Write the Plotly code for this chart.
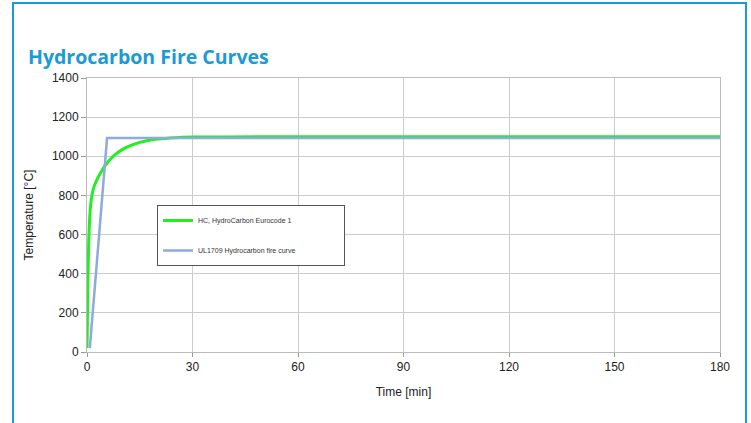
import plotly.graph_objects as go

# Data
hc_time = [0, 0.25, 0.5, 0.75, 1, 1.5, 2, 3, 4, 5, 6, 7, 8, 10, 12, 15, 18, 20, 25, 30, 40, 60, 90, 120, 150, 180]
hc_temp = [20, 360, 570, 680, 745, 810, 845, 887, 920, 948, 972, 991, 1008, 1034, 1052, 1071, 1083, 1088, 1095, 1098, 1099, 1100, 1100, 1100, 1100, 1100]
ul_time = [0.8, 5.7, 180]
ul_temp = [20, 1093, 1093]

x_ticks = [0, 30, 60, 90, 120, 150, 180]
y_ticks = [0, 200, 400, 600, 800, 1000, 1200, 1400]

title_text = "Hydrocarbon Fire Curves"
hc_name = "HC, HydroCarbon Eurocode 1"
ul_name = "UL1709 Hydrocarbon fire curve"

W, H = 751, 423
L, R, T, B = 87, 31, 78, 71
pw, ph = W - L - R, H - T - B

def px(xp):
    return (xp - L) / pw

def py(yp):
    return (H - B - yp) / ph

pad = "\u00a0" * 22

fig = go.Figure()
fig.add_trace(go.Scatter(x=hc_time, y=hc_temp, mode="lines", name=hc_name + pad,
                         legendgroup="hc",
                         line=dict(color="#22ee22", width=3, shape="spline", smoothing=0.6)))
fig.add_trace(go.Scatter(x=ul_time, y=ul_temp, mode="lines", name=ul_name + pad,
                         legendgroup="ul",
                         line=dict(color="#8faadc", width=2.5)))

axis_font = dict(family="Liberation Sans, Arial, sans-serif", size=12, color="#222222")

fig.update_layout(
    width=W, height=H,
    margin=dict(l=L, r=R, t=T, b=B),
    paper_bgcolor="white", plot_bgcolor="white",
    showlegend=True,
    legend=dict(
        x=px(157), y=py(205), xanchor="left", yanchor="top",
        bgcolor="white", bordercolor="#555555", borderwidth=1,
        font=dict(family="Liberation Sans, Arial, sans-serif", size=7, color="#333333"),
        tracegroupgap=11,
    ),
    annotations=[dict(
        text="<b>" + title_text + "</b>", xref="paper", yref="paper",
        x=px(26), y=py(57), xanchor="left", yanchor="middle", showarrow=False,
        font=dict(family="Open Sans, sans-serif", size=19.5, color="#1a9ad6"),
    )],
    shapes=[dict(
        type="rect", xref="paper", yref="paper",
        x0=px(13), x1=px(746), y0=py(440), y1=py(3),
        line=dict(color="#1a9ad6", width=2), fillcolor="rgba(0,0,0,0)", layer="below",
    )],
)

fig.update_xaxes(
    range=[0, 180], tickvals=x_ticks, ticktext=[str(v) for v in x_ticks],
    showgrid=True, gridcolor="#cccccc", gridwidth=1,
    showline=True, linecolor="#bbbbbb", linewidth=1, mirror=True,
    ticks="outside", ticklen=4, tickcolor="#999999",
    tickfont=axis_font, zeroline=False,
    title=dict(text="Time [min]", font=axis_font, standoff=14),
)
fig.update_yaxes(
    range=[0, 1400], tickvals=y_ticks, ticktext=[str(v) for v in y_ticks],
    showgrid=True, gridcolor="#cccccc", gridwidth=1,
    showline=True, linecolor="#bbbbbb", linewidth=1, mirror=True,
    ticks="outside", ticklen=5, tickcolor="#999999",
    tickfont=axis_font, zeroline=False,
    title=dict(text="Temperature [°C]", font=axis_font, standoff=15),
)

fig.write_html("out.html")
